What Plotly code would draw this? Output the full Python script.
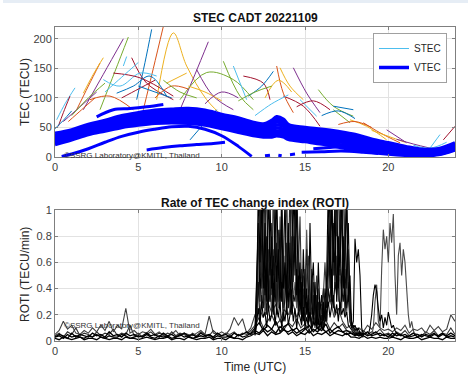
import numpy as np
import plotly.graph_objects as go

# ---------------- DATA ----------------
hour_ticks = [0, 5, 10, 15, 20]
tec_ticks = [0, 50, 100, 150, 200]
roti_ticks = [0, 0.2, 0.4, 0.6, 0.8, 1.0]
roti_tick_labels = ["0", "0.2", "0.4", "0.6", "0.8", "1"]

# STEC arcs: (times [h], values [TECU])
stec_times = [
    [0.1, 0.6, 1.2], [0.2, 0.5, 0.9], [0.0, 0.5, 1.0], [1.3, 2.0, 2.7], [1.7, 2.3, 2.9],
    [1.7, 2.9, 4.1], [2.7, 3.6, 4.4], [4.1, 4.3], [4.6, 5.5, 7.1], [4.9, 5.4, 5.8],
    [5.3, 5.9, 6.5], [6.1, 7.1, 7.9, 9.1, 10.3], [7.5, 8.4, 9.2], [7.5, 9.1, 10.7, 11.9],
    [2.9, 3.9, 5.1, 6.1], [3.5, 5.1, 7.1], [3.7, 4.7, 5.7, 6.7], [2.1, 3.3, 4.7],
    [6.7, 7.9], [8.5, 9.5, 10.7], [10.1, 11.1, 11.9], [10.7, 11.5], [11.3, 12.5, 12.9],
    [11.6, 12.4, 13.1], [13.3, 13.7, 14.3], [13.5, 14.1, 14.9], [14.3, 15.1, 15.9],
    [15.8, 16.7, 17.9], [14.7, 15.7], [13.7, 14.9, 15.9], [16.7, 17.9], [18.5, 19.5, 20.7],
    [17.7, 18.7, 19.9], [19.9, 21.1], [16.7, 17.7], [22.5, 23.1], [23.3, 24.0],
    [8.1, 8.9, 9.7], [0.8, 1.6, 2.4], [12.6, 13.4, 14.2],
    [0.5, 1.5, 2.5], [1.0, 2.0, 3.0], [3.0, 4.0, 5.0], [4.0, 5.0, 6.0], [5.0, 6.0, 7.0],
    [6.0, 7.0, 8.0], [8.0, 9.0, 10.0], [9.0, 10.0, 11.0], [11.0, 12.0, 13.0],
    [12.0, 13.0, 14.0], [14.5, 15.5, 16.5], [16.0, 17.0, 18.0], [17.0, 18.0, 19.0],
    [19.0, 20.0, 21.0], [20.5, 21.5, 22.5], [6.5, 7.5, 8.5], [21.5, 22.5, 23.5],
]
stec_values = [
    [63, 90, 117], [52, 75, 103], [48, 62, 78], [80, 120, 159], [108, 140, 168],
    [80, 140, 200], [80, 145, 203], [154, 170], [168, 125, 97], [97, 160, 216],
    [80, 150, 221], [97, 210, 154, 97, 63], [80, 140, 195], [97, 143, 131, 97],
    [131, 120, 142, 137], [142, 134, 103], [108, 120, 137, 103], [97, 103, 80],
    [125, 142], [148, 103, 80], [162, 103, 80], [154, 97], [137, 125, 97],
    [103, 120, 145], [154, 108, 75], [151, 120, 97], [151, 108, 75],
    [114, 86, 69], [97, 69], [103, 86, 52], [86, 80], [58, 41, 24],
    [63, 52, 29], [46, 24], [80, 58], [15, 38], [29, 52],
    [29, 55, 80], [60, 80, 100], [100, 130, 110],
    [60, 85, 110], [70, 100, 125], [110, 135, 160], [100, 115, 130], [120, 110, 100],
    [100, 120, 115], [120, 110, 95], [90, 110, 100], [95, 110, 120],
    [70, 90, 105], [85, 95, 80], [70, 78, 65], [55, 60, 50],
    [45, 35, 25], [30, 22, 15], [130, 110, 100], [20, 15, 25],
]

# VTEC band lines
vtec_t = [0, 1, 2, 3, 4, 5, 6, 7, 8, 9, 10, 11, 12, 12.5, 13, 13.3, 13.7, 14,
          15, 16, 17, 18, 19, 20, 21, 22, 23, 24]
vtec_1 = [40, 46, 55, 62, 70, 75, 79, 81, 82, 79, 72, 66, 58, 56, 62, 68, 64, 55, 50, 47, 43, 38, 30, 24, 18, 13, 14, 24]
vtec_2 = [36, 42, 52, 59, 67, 72, 76, 78, 79, 76, 69, 63, 55, 53, 58, 64, 60, 52, 47, 44, 40, 35, 27, 21, 16, 11, 12, 22]
vtec_3 = [33, 40, 49, 56, 63, 68, 72, 74, 75, 72, 65, 59, 52, 50, 54, 59, 56, 48, 44, 41, 37, 31, 24, 18, 14, 9, 10, 20]
vtec_4 = [30, 38, 47, 53, 60, 65, 69, 71, 71, 68, 62, 56, 49, 47, 50, 54, 52, 45, 41, 38, 33, 28, 21, 16, 12, 8, 9, 18]
vtec_5 = [28, 36, 45, 51, 58, 62, 66, 67, 67, 64, 59, 53, 46, 44, 46, 49, 47, 42, 38, 34, 30, 24, 18, 13, 9, 6, 7, 16]
vtec_6 = [26, 34, 43, 49, 56, 60, 63, 64, 64, 61, 56, 50, 43, 41, 42, 44, 42, 38, 34, 30, 26, 20, 15, 10, 7, 5, 6, 15]
vtec_7 = [24, 32, 40, 47, 53, 57, 60, 61, 61, 58, 52, 46, 40, 38, 38, 40, 38, 34, 30, 26, 21, 16, 11, 8, 5, 3, 5, 13]
vtec_8 = [21, 29, 38, 44, 50, 54, 57, 58, 57, 54, 48, 42, 36, 34, 34, 36, 34, 30, 26, 22, 17, 12, 8, 5, 3, 2, 4, 12]

vtec_extra_t = [
    [2.5, 3.5, 4.5, 5.5, 6.5],
    [0.4, 1, 2, 3, 4, 5, 6, 7, 8, 9, 10, 11, 11.8],
    [5.5, 6.5, 7.5, 8.5, 9.5, 10.2],
    [12.6, 12.9], [13.4, 13.6], [14.1, 14.4],
    [14.8, 16.0, 17.2, 18.5, 19.4],
    [15.5, 16.5, 17.5, 18.5, 19.5, 20.5],
    [13.2, 13.5, 13.8, 13.5, 13.2],
]
vtec_extra_v = [
    [68, 80, 82, 85, 89],
    [1, 5, 14, 25, 35, 42, 47, 51, 52, 47, 36, 18, 1],
    [12, 16, 19, 21, 23, 25],
    [2, 3], [3, 2], [4, 5],
    [8, 9, 10, 8, 6],
    [14, 16, 18, 15, 10, 5],
    [38, 44, 40, 36, 38],
]

# ROTI baseline traces: full day, 0.25 h step
roti_base_start, roti_base_step = 0.0, 0.25
roti_b1 = [0.03,0.04,0.02,0.05,0.03,0.04,0.03,0.02, 0.04,0.03,0.05,0.03,0.02,0.04,0.03,0.03,
           0.05,0.04,0.02,0.03,0.04,0.03,0.05,0.03, 0.02,0.04,0.03,0.04,0.02,0.03,0.05,0.03,
           0.04,0.02,0.03,0.04,0.03,0.05,0.02,0.04, 0.03,0.03,0.04,0.02,0.05,0.03,0.04,0.06,
           0.10,0.14,0.08,0.12,0.09,0.15,0.07,0.11, 0.13,0.08,0.10,0.06,0.09,0.12,0.07,0.10,
           0.08,0.13,0.06,0.09,0.11,0.07,0.08,0.06, 0.05,0.04,0.06,0.04,0.05,0.07,0.04,0.05,
           0.03,0.06,0.04,0.05,0.03,0.04,0.06,0.03, 0.05,0.04,0.03,0.05,0.04,0.06,0.03,0.04, 0.03]
roti_b2 = [0.02,0.01,0.03,0.02,0.01,0.02,0.03,0.01, 0.02,0.02,0.01,0.03,0.02,0.01,0.02,0.02,
           0.01,0.03,0.02,0.02,0.01,0.02,0.03,0.02, 0.01,0.02,0.02,0.03,0.01,0.02,0.02,0.01,
           0.03,0.02,0.01,0.02,0.02,0.03,0.01,0.02, 0.02,0.01,0.03,0.02,0.02,0.01,0.03,0.04,
           0.06,0.05,0.08,0.04,0.07,0.05,0.06,0.09, 0.05,0.07,0.04,0.06,0.05,0.08,0.04,0.06,
           0.05,0.07,0.04,0.06,0.05,0.04,0.06,0.03, 0.03,0.02,0.04,0.02,0.03,0.02,0.03,0.02,
           0.02,0.03,0.02,0.01,0.03,0.02,0.02,0.03, 0.01,0.02,0.03,0.02,0.02,0.01,0.03,0.02, 0.02]
roti_b3 = [0.05,0.08,0.15,0.09,0.12,0.06,0.05,0.08, 0.06,0.10,0.07,0.12,0.08,0.15,0.07,0.12,
           0.09,0.25,0.06,0.08,0.05,0.07,0.06,0.09, 0.05,0.07,0.04,0.06,0.05,0.08,0.04,0.06,
           0.05,0.04,0.06,0.08,0.05,0.19,0.06,0.05, 0.07,0.05,0.09,0.18,0.12,0.17,0.06,0.10,
           0.20,0.25,0.18,0.30,0.22,0.28,0.15,0.24, 0.20,0.30,0.18,0.26,0.14,0.22,0.12,0.20,
           0.28,0.20,0.32,0.18,0.25,0.15,0.10,0.12, 0.08,0.10,0.07,0.12,0.09,0.14,0.10,0.08,
           0.09,0.07,0.10,0.08,0.12,0.06,0.09,0.08, 0.10,0.06,0.12,0.08,0.11,0.07,0.09,0.20, 0.15]
roti_b4 = [0.04,0.06,0.03,0.07,0.05,0.10,0.04,0.06, 0.05,0.03,0.07,0.04,0.06,0.05,0.09,0.04,
           0.06,0.05,0.12,0.04,0.06,0.03,0.05,0.07, 0.04,0.06,0.05,0.03,0.07,0.04,0.06,0.05,
           0.03,0.06,0.04,0.07,0.05,0.04,0.08,0.05, 0.04,0.06,0.05,0.07,0.04,0.06,0.05,0.08,
           0.12,0.18,0.10,0.15,0.20,0.12,0.16,0.09, 0.14,0.11,0.17,0.10,0.13,0.08,0.15,0.10,
           0.12,0.16,0.09,0.14,0.10,0.13,0.08,0.07, 0.06,0.05,0.08,0.05,0.07,0.06,0.09,0.05,
           0.06,0.04,0.07,0.05,0.08,0.04,0.06,0.05, 0.04,0.07,0.05,0.08,0.04,0.06,0.05,0.10, 0.05]
roti_b5 = [0.03,0.05,0.04,0.02,0.06,0.03,0.05,0.04, 0.03,0.06,0.04,0.05,0.03,0.07,0.04,0.05,
           0.03,0.06,0.04,0.05,0.03,0.04,0.06,0.04, 0.05,0.03,0.06,0.04,0.05,0.03,0.04,0.06,
           0.04,0.05,0.03,0.06,0.04,0.05,0.03,0.06, 0.04,0.05,0.03,0.06,0.04,0.05,0.07,0.05,
           0.08,0.06,0.10,0.07,0.09,0.06,0.11,0.08, 0.07,0.09,0.06,0.08,0.10,0.06,0.09,0.07,
           0.10,0.07,0.09,0.06,0.08,0.07,0.05,0.06, 0.04,0.06,0.05,0.07,0.04,0.05,0.06,0.04,
           0.05,0.03,0.06,0.04,0.05,0.03,0.04,0.05, 0.03,0.05,0.04,0.06,0.03,0.05,0.04,0.06, 0.04]

# ROTI active-period traces: 12.0-18.5 h, 0.1 h step
roti_act_start, roti_act_step = 12.0, 0.1
roti_a1 = [0.05,0.30,1.20,0.60,1.10,0.40,0.90,0.30,1.20,0.50,
           0.80,0.20,1.10,0.45,0.70,0.25,1.00,0.40,0.60,0.20,
           0.90,0.35,0.55,1.20,0.50,1.10,0.30,0.60,0.15,0.70,
           0.25,0.40,0.10,0.90,0.30,0.15,0.45,0.10,0.60,0.20,
           0.10,0.30,0.15,0.50,1.20,0.40,1.10,0.60,1.00,0.30,
           0.80,0.50,1.20,0.40,0.70,1.10,0.30,0.50,0.10,0.15,
           0.78,0.60,0.70,0.50,0.10,0.05]
roti_a2 = [0.08,0.50,0.90,0.30,0.70,1.20,0.35,0.80,0.25,1.10,
           0.40,0.65,0.30,1.20,0.50,0.85,0.30,0.55,1.10,0.40,
           0.30,0.75,0.25,0.60,1.20,0.35,0.50,0.20,0.45,0.15,
           0.55,0.20,0.35,0.15,0.40,0.60,0.20,0.30,0.12,0.25,
           0.35,0.15,0.40,0.25,0.70,1.20,0.30,0.90,0.50,1.20,
           0.40,1.00,0.30,0.80,0.20,0.60,0.90,0.25,0.15,0.10,
           0.12,0.08,0.10,0.06,0.05,0.04]
roti_a3 = [0.06,0.20,0.45,0.15,0.35,0.25,0.50,0.20,0.40,0.30,
           0.55,0.25,0.40,0.20,0.60,0.30,0.45,0.15,0.35,0.50,
           0.25,0.40,0.20,0.35,0.30,0.55,0.20,0.45,0.25,0.35,
           0.15,0.30,0.20,0.25,0.10,0.35,0.20,0.15,0.30,0.10,
           0.20,0.10,0.25,0.15,0.40,0.30,0.55,0.25,0.45,0.35,
           0.50,0.20,0.40,0.30,0.55,0.25,0.35,0.15,0.10,0.12,
           0.08,0.10,0.06,0.07,0.05,0.04]
roti_a4 = [0.05,0.15,0.70,1.20,0.40,0.60,1.20,0.50,0.70,0.30,
           0.90,0.50,0.60,0.30,0.85,0.40,1.20,0.60,0.40,0.75,
           0.50,1.20,0.40,0.80,0.60,1.20,0.70,0.40,0.55,0.25,
           0.40,0.70,0.30,0.20,0.50,0.25,0.10,0.35,0.20,0.15,
           0.25,0.40,0.20,0.35,0.50,0.90,1.20,0.50,1.20,0.80,
           1.20,0.60,0.90,1.20,0.50,1.20,0.40,0.20,0.10,0.08,
           0.06,0.05,0.07,0.04,0.05,0.04]
roti_a5 = [0.04,0.12,0.35,0.80,0.25,0.50,0.20,0.65,0.30,0.45,
           0.20,0.70,0.35,0.50,0.25,0.95,0.40,0.30,0.65,0.25,
           0.60,0.20,0.80,0.30,0.45,0.25,0.65,0.35,0.20,0.50,
           0.30,0.85,0.40,0.25,0.55,0.20,0.30,0.15,0.40,0.20,
           0.10,0.20,0.30,0.15,0.35,0.60,0.25,0.75,0.40,0.65,
           0.30,0.55,0.25,0.70,0.35,0.20,0.45,0.15,0.10,0.08,
           0.06,0.05,0.04,0.05,0.04,0.03]
roti_a6 = [0.06,0.40,0.80,0.50,1.20,0.30,0.70,1.20,0.45,0.60,
           0.35,1.20,0.50,0.75,0.30,0.60,0.85,0.25,0.50,1.20,
           0.40,0.60,1.20,0.45,0.80,0.30,0.55,0.95,0.30,0.40,
           0.20,0.50,0.65,0.30,0.20,0.45,0.25,0.50,0.15,0.30,
           0.20,0.35,0.60,0.30,0.80,0.50,1.20,0.70,0.40,1.20,
           0.60,0.90,1.20,0.50,1.00,0.40,0.70,0.30,0.12,0.10,
           0.08,0.06,0.05,0.06,0.04,0.03]
roti_a7 = [0.05,0.15,0.25,0.12,0.30,0.18,0.22,0.10,0.28,0.15,
           0.20,0.35,0.12,0.25,0.18,0.30,0.10,0.22,0.15,0.28,
           0.12,0.20,0.30,0.15,0.25,0.10,0.22,0.18,0.12,0.26,
           0.10,0.18,0.12,0.22,0.08,0.15,0.12,0.20,0.08,0.14,
           0.12,0.08,0.15,0.20,0.30,0.18,0.25,0.35,0.20,0.28,
           0.15,0.30,0.20,0.25,0.18,0.22,0.12,0.10,0.08,0.06,
           0.05,0.06,0.04,0.05,0.04,0.03]

# Late-evening traces
roti_c1_start, roti_c1_step = 19.0, 0.1
roti_c1 = [0.05,0.10,0.30,0.43,0.15,0.10,0.55,0.85,0.70,0.80,0.60,0.90,0.75,0.97,
           0.50,0.20,0.65,0.75,0.50,0.70,0.60,0.40,0.20,0.10,0.15,0.08,0.05]
roti_c2_start, roti_c2_step = 18.8, 0.1
roti_c2 = [0.05,0.10,0.20,0.35,0.43,0.38,0.25,0.15,0.20,0.10,0.18,0.12,0.22,0.15,
           0.10,0.12,0.08,0.06,0.05]

# ---------------- FIGURE ----------------
W, H = 472, 382
def px_x(p): return p / W
def px_y(p): return 1 - p / H

matlab_colors = ['#4DBEEE', '#A2142F', '#0072BD', '#D95319', '#EDB120', '#7E2F8E', '#77AC30']

fig = go.Figure()

for i, (t, v) in enumerate(zip(stec_times, stec_values)):
    fig.add_trace(go.Scatter(
        x=t, y=v, mode='lines', xaxis='x', yaxis='y',
        line=dict(color=matlab_colors[i % len(matlab_colors)], width=1, shape='spline'),
        name='STEC', showlegend=(i == 0), hoverinfo='skip'))

vtec_lines = [vtec_1, vtec_2, vtec_3, vtec_4, vtec_5, vtec_6, vtec_7, vtec_8]
for i, v in enumerate(vtec_lines):
    fig.add_trace(go.Scatter(
        x=vtec_t, y=v, mode='lines', xaxis='x', yaxis='y',
        line=dict(color='#0000FF', width=3.5, shape='spline'),
        name='VTEC', showlegend=(i == 0), hoverinfo='skip'))
for t, v in zip(vtec_extra_t, vtec_extra_v):
    fig.add_trace(go.Scatter(
        x=t, y=v, mode='lines', xaxis='x', yaxis='y',
        line=dict(color='#0000FF', width=3, shape='spline'),
        showlegend=False, hoverinfo='skip'))

def add_roti(vals, start, step, color, width=1.1):
    t = start + step * np.arange(len(vals))
    fig.add_trace(go.Scatter(
        x=t, y=vals, mode='lines', xaxis='x2', yaxis='y2',
        line=dict(color=color, width=width), showlegend=False, hoverinfo='skip'))

add_roti(roti_b4, roti_base_start, roti_base_step, '#303030')
add_roti(roti_b3, roti_base_start, roti_base_step, '#404040')
add_roti(roti_a5, roti_act_start, roti_act_step, '#555555')
add_roti(roti_a6, roti_act_start, roti_act_step, '#3a3a3a')
add_roti(roti_a3, roti_act_start, roti_act_step, '#111111')
add_roti(roti_a2, roti_act_start, roti_act_step, '#000000')
add_roti(roti_a4, roti_act_start, roti_act_step, '#222222')
add_roti(roti_a1, roti_act_start, roti_act_step, '#000000')
add_roti(roti_a7, roti_act_start, roti_act_step, '#000000')
add_roti(roti_c1, roti_c1_start, roti_c1_step, '#4a4a4a')
add_roti(roti_c2, roti_c2_start, roti_c2_step, '#000000')
add_roti(roti_b5, roti_base_start, roti_base_step, '#000000', 1.3)
add_roti(roti_b1, roti_base_start, roti_base_step, '#000000', 1.3)
add_roti(roti_b2, roti_base_start, roti_base_step, '#000000', 1.3)

font_family = 'Liberation Sans, Arial, sans-serif'
axis_common = dict(
    showgrid=True, gridcolor='#e2e2e2', gridwidth=1, zeroline=False,
    showline=True, linecolor='#7f7f7f', linewidth=1, mirror='ticks',
    ticks='inside', ticklen=3, tickcolor='#7f7f7f', automargin=False,
    tickfont=dict(size=11, color='#404040', family=font_family),
)
xdom = [px_x(55), px_x(455)]

def label(text, x, y, size=12, color='#262626', angle=0, xanchor='center'):
    return dict(text=text, xref='paper', yref='paper', x=px_x(x), y=px_y(y),
                xanchor=xanchor, yanchor='middle', textangle=angle, showarrow=False,
                font=dict(size=size, color=color, family=font_family))

fig.update_layout(
    template='none',
    width=W, height=H, autosize=False,
    margin=dict(l=0, r=0, t=0, b=0, pad=0, autoexpand=False),
    paper_bgcolor='white', plot_bgcolor='white',
    font=dict(family=font_family, color='#262626'),
    xaxis=dict(domain=xdom, anchor='y', range=[0, 24], tickvals=hour_ticks, **axis_common),
    yaxis=dict(domain=[px_y(157), px_y(27)], anchor='x', range=[0, 220], tickvals=tec_ticks, **axis_common),
    xaxis2=dict(domain=xdom, anchor='y2', range=[0, 24], tickvals=hour_ticks, **axis_common),
    yaxis2=dict(domain=[px_y(341), px_y(210)], anchor='x2', range=[0, 1],
                tickvals=roti_ticks, ticktext=roti_tick_labels, **axis_common),
    legend=dict(x=px_x(447), xanchor='right', y=px_y(33), yanchor='top',
                bgcolor='white', bordercolor='#a0a0a0', borderwidth=1,
                font=dict(size=10, color='#262626', family=font_family),
                tracegroupgap=0, itemwidth=30),
    showlegend=True,
    shapes=[dict(type='rect', xref='paper', yref='paper', x0=px_x(3), x1=px_x(468),
                 y0=px_y(3), y1=1, fillcolor='#e6edf5', line=dict(width=0), layer='above')],
    annotations=[
        label('<b>STEC CADT 20221109</b>', 255, 18, 12, '#111111'),
        label('<b>Rate of TEC change index (ROTI)</b>', 255, 203, 12, '#111111'),
        label('TEC (TECU)', 25, 92, angle=-90),
        label('ROTI (TECU/min)', 25, 275, angle=-90),
        label('Time (UTC)', 255, 367),
        label('©SSRG Laboratory@KMITL, Thailand', 62, 155, 8, '#333333', xanchor='left'),
        label('©SSRG Laboratory@KMITL, Thailand', 62, 325, 8, '#333333', xanchor='left'),
    ],
)

fig.write_html('out.html', config={'displayModeBar': False},
               post_script="document.body.style.margin='0';document.body.style.padding='0';")
